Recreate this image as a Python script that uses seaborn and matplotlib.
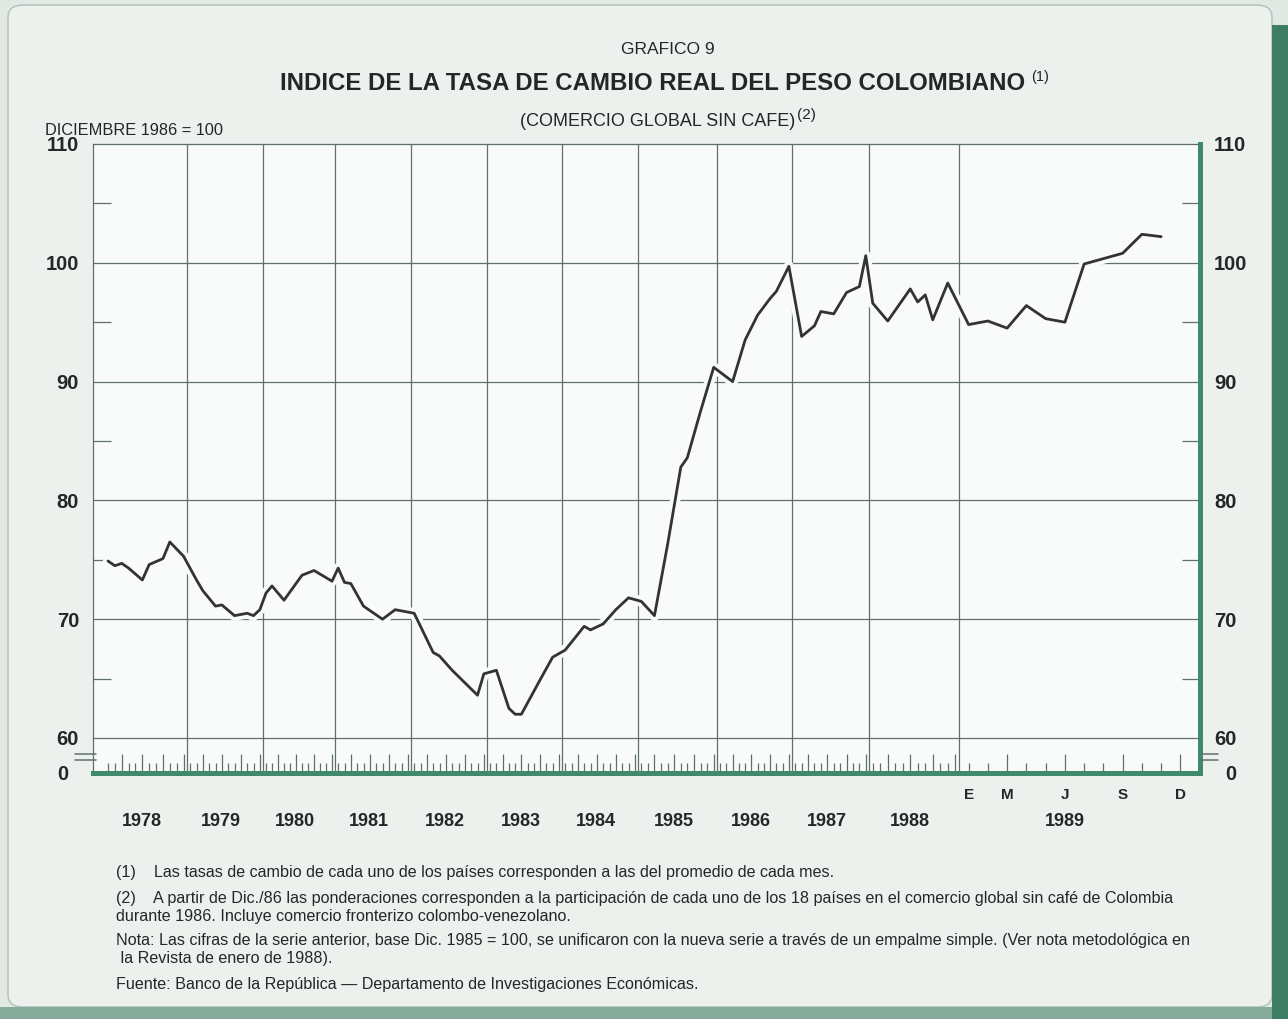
import numpy as np
import pandas as pd
import matplotlib
matplotlib.use("Agg")
import matplotlib.pyplot as plt
import matplotlib.patheffects as pe
from matplotlib.patches import FancyBboxPatch, Rectangle
from matplotlib.lines import Line2D
from matplotlib.ticker import FixedLocator, NullFormatter
import seaborn as sns

# ---- datos (indice, dic 1986 = 100) ----
periodo = ["1978-01", "1978-02", "1978-03", "1978-04", "1978-06", "1978-07", "1978-09", "1978-10", "1978-12",
           "1979-02", "1979-03", "1979-05", "1979-06", "1979-08", "1979-10", "1979-11", "1979-12",
           "1980-01", "1980-02", "1980-04", "1980-07", "1980-09", "1980-12",
           "1981-01", "1981-02", "1981-03", "1981-05", "1981-08", "1981-10",
           "1982-01", "1982-04", "1982-05", "1982-07", "1982-11", "1982-12",
           "1983-02", "1983-04", "1983-05", "1983-06", "1983-09", "1983-11",
           "1984-01", "1984-04", "1984-05", "1984-07", "1984-09", "1984-11",
           "1985-01", "1985-03", "1985-04", "1985-05", "1985-07", "1985-08", "1985-10", "1985-12",
           "1986-03", "1986-05", "1986-07", "1986-09", "1986-10", "1986-12",
           "1987-02", "1987-04", "1987-05", "1987-07", "1987-09", "1987-11", "1987-12",
           "1988-01", "1988-03", "1988-06", "1988-07", "1988-08", "1988-09", "1988-11",
           "1989-01", "1989-02", "1989-03", "1989-04", "1989-05", "1989-06", "1989-07", "1989-09",
           "1989-10", "1989-11"]
indice = [74.9, 74.5, 74.7, 74.3, 73.3, 74.6, 75.1, 76.5, 75.3,
          73.3, 72.4, 71.1, 71.2, 70.3, 70.5, 70.3, 70.8,
          72.2, 72.8, 71.6, 73.7, 74.1, 73.2,
          74.3, 73.1, 73.0, 71.1, 70.0, 70.8,
          70.5, 67.2, 66.9, 65.7, 63.6, 65.4,
          65.7, 62.5, 62.0, 62.0, 64.9, 66.8,
          67.4, 69.4, 69.1, 69.6, 70.8, 71.8,
          71.5, 70.3, 73.3, 76.3, 82.8, 83.6, 87.5, 91.2,
          90.0, 93.5, 95.6, 97.0, 97.6, 99.7,
          93.8, 94.7, 95.9, 95.7, 97.5, 98.0, 100.6,
          96.6, 95.1, 97.8, 96.7, 97.3, 95.2, 98.3,
          94.8, 95.1, 94.5, 96.4, 95.3, 95.0, 99.9, 100.8,
          102.4, 102.2]

anios = list(range(1978, 1990))
letras_1989 = ["E", "M", "J", "S", "D"]
meses_letras = [1, 3, 6, 9, 12]
y_ticks = [60, 70, 80, 90, 100, 110]

# escala del eje x dibujada a mano: 1989 va ampliado mes a mes
lim_anios = [1977.86, 1979, 1980, 1981, 1982, 1983, 1984, 1985, 1986, 1987, 1988, 1989, 1990, 1990.052]
pos_px = [93, 187, 263, 335, 411, 487, 562, 638, 717, 792, 869, 959, 1190, 1200]


def hacia(t):
    return np.interp(t, lim_anios, pos_px)


def desde(p):
    return np.interp(p, pos_px, lim_anios)


df = pd.DataFrame({"periodo": pd.to_datetime(periodo), "indice": indice})
df["t"] = df["periodo"].dt.year + (df["periodo"].dt.month - 0.5) / 12

# colores
fondo_pag = "#ecf1ee"
fondo_graf = "#f9fbfa"
rejilla = "#5f6f69"
verde = "#3f8a6c"
tinta = "#222826"

sns.set_style("white")
plt.rcParams["font.family"] = ["Liberation Sans", "DejaVu Sans"]

W, H = 1288, 1019
fig = plt.figure(figsize=(W / 100, H / 100), dpi=100, facecolor="#e2e9e5")


def fx(px):
    return px / W


def fy(py):
    return 1 - py / H


# marco de la pagina (por debajo de los ejes)
fig.patches.append(FancyBboxPatch((fx(8), fy(1007)), fx(1264), 1002 / H,
                                  boxstyle="round,pad=0,rounding_size=0.012",
                                  transform=fig.transFigure, facecolor=fondo_pag,
                                  edgecolor="#b8c6bf", lw=1.2, zorder=-2))
fig.patches.append(Rectangle((fx(1272), 0), fx(16), fy(25), transform=fig.transFigure,
                             facecolor="#3d7d64", edgecolor="none", zorder=-2))
fig.patches.append(Rectangle((0, 0), fx(1272), 12 / H, transform=fig.transFigure,
                             facecolor="#86ab9d", edgecolor="none", zorder=-2))

# ---- franja inferior con el 0 y los meses ----
axs = fig.add_axes([fx(93), fy(773), fx(1200 - 93), (773 - 738) / H])
axs.set_facecolor(fondo_graf)
axs.set_xscale("function", functions=(hacia, desde))
axs.set_xlim(lim_anios[0], lim_anios[-1])
axs.set_ylim(0, 1)
for a in anios[1:]:
    axs.axvline(a, color=rejilla, lw=0.9, zorder=1)
meses_t = [a + (m - 0.5) / 12 for a in anios for m in range(1, 13)]
trimestres = [t for i, t in enumerate(meses_t) if i % 3 == 2]
otros = [t for i, t in enumerate(meses_t) if i % 3 != 2]
axs.xaxis.set_major_locator(FixedLocator(trimestres))
axs.xaxis.set_minor_locator(FixedLocator(otros))
axs.xaxis.set_major_formatter(NullFormatter())
axs.tick_params(axis="x", which="major", direction="in", length=14, width=0.9, color=rejilla,
                bottom=True, top=False, labelbottom=False)
axs.tick_params(axis="x", which="minor", direction="in", length=7, width=0.9, color=rejilla,
                bottom=True, top=False)
axs.set_yticks([0])
axs.set_yticklabels(["0"])
axs.tick_params(axis="y", length=0, pad=18, labelleft=True, labelright=True,
                labelsize=14.5, labelcolor=tinta)
for lab in axs.get_yticklabels():
    lab.set_fontweight("bold")
axs.spines["top"].set_visible(False)
axs.spines["left"].set_color(rejilla)
axs.spines["left"].set_linewidth(0.9)
for s in ["right", "bottom"]:
    axs.spines[s].set_color(verde)
    axs.spines[s].set_linewidth(3.6)

# ---- eje principal 60..110 ----
ax = fig.add_axes([fx(93), fy(738), fx(1200 - 93), (738 - 144) / H])
ax.set_zorder(3)
ax.set_facecolor(fondo_graf)
sns.lineplot(data=df, x="t", y="indice", ax=ax, color="#333333", lw=2.0,
             estimator=None, zorder=4)
ax.lines[-1].set_path_effects([pe.Stroke(linewidth=7.5, foreground=fondo_graf), pe.Normal()])
ax.set_xscale("function", functions=(hacia, desde))
ax.set_xlim(lim_anios[0], lim_anios[-1])
ax.set_ylim(60, 110)
ax.set_xlabel("")
ax.set_ylabel("")
ax.set_xticks([])
for a in anios[1:]:
    ax.axvline(a, color=rejilla, lw=0.9, zorder=1)
for v in y_ticks[1:-1]:
    ax.axhline(v, color=rejilla, lw=0.9, zorder=1)
ax.set_yticks(y_ticks)
ax.set_yticklabels([str(v) for v in y_ticks])
ax.yaxis.set_minor_locator(FixedLocator([65, 75, 85, 95, 105]))
ax.tick_params(axis="y", which="major", length=0, pad=10, labelleft=True, labelright=True,
               labelsize=14.5, labelcolor=tinta)
ax.tick_params(axis="y", which="minor", direction="in", length=13, width=0.9, color=rejilla,
               left=True, right=True)
for lab in ax.get_yticklabels():
    lab.set_fontweight("bold")
for s in ["left", "top", "bottom"]:
    ax.spines[s].set_color(rejilla)
    ax.spines[s].set_linewidth(0.9)
ax.spines["right"].set_color(verde)
ax.spines["right"].set_linewidth(3.6)

# etiquetas de anios y meses
tr = axs.get_xaxis_transform()
for a in anios[:-1]:
    axs.text(a + 0.45, -1.4, str(a), transform=tr, ha="center", va="center",
             fontsize=13, fontweight="bold", color=tinta)
axs.text(1989 + 5.5 / 12, -1.4, "1989", transform=tr, ha="center", va="center",
         fontsize=13, fontweight="bold", color=tinta)
for l, m in zip(letras_1989, meses_letras):
    axs.text(1989 + (m - 0.5) / 12, -0.63, l, transform=tr, ha="center", va="center",
             fontsize=11, fontweight="bold", color=tinta)

# marcas de corte del eje
for x0, x1 in [(75, 96), (1200, 1218)]:
    for yy in (754, 760):
        fig.add_artist(Line2D([fx(x0), fx(x1)], [fy(yy), fy(yy)], transform=fig.transFigure,
                              color=rejilla, lw=1.1))

# ---- textos ----
fig.text(fx(668), fy(50), "GRAFICO 9", ha="center", va="center", fontsize=12.5, color=tinta)
tit = fig.text(fx(653), fy(84), "INDICE DE LA TASA DE CAMBIO REAL DEL PESO COLOMBIANO",
               ha="center", va="center", fontsize=17.3, fontweight="bold", color=tinta)
sub = fig.text(fx(658), fy(121), "(COMERCIO GLOBAL SIN CAFE)", ha="center", va="center",
               fontsize=13, color=tinta)
fig.canvas.draw()
r = fig.canvas.get_renderer()
bt = tit.get_window_extent(r)
fig.text((bt.x1 + 6) / W, fy(77), "(1)", ha="left", va="center", fontsize=10.5, color=tinta)
bs = sub.get_window_extent(r)
fig.text((bs.x1 + 1) / W, fy(115), "(2)", ha="left", va="center", fontsize=11, color=tinta)
fig.text(fx(45), fy(130), "DICIEMBRE 1986 = 100", ha="left", va="center", fontsize=11.8,
         color=tinta)

notas = [
    (873, "(1)    Las tasas de cambio de cada uno de los países corresponden a las del promedio de cada mes."),
    (898, "(2)    A partir de Dic./86 las ponderaciones corresponden a la participación de cada uno de los 18 países en el comercio global sin café de Colombia"),
    (916, "durante 1986. Incluye comercio fronterizo colombo-venezolano."),
    (940, "Nota: Las cifras de la serie anterior, base Dic. 1985 = 100, se unificaron con la nueva serie a través de un empalme simple. (Ver nota metodológica en"),
    (958, " la Revista de enero de 1988)."),
    (985, "Fuente: Banco de la República — Departamento de Investigaciones Económicas."),
]
for yy, txt in notas:
    fig.text(fx(116), fy(yy), txt, ha="left", va="center", fontsize=11.6, color=tinta)

fig.savefig("out.png", dpi=100, facecolor=fig.get_facecolor())
